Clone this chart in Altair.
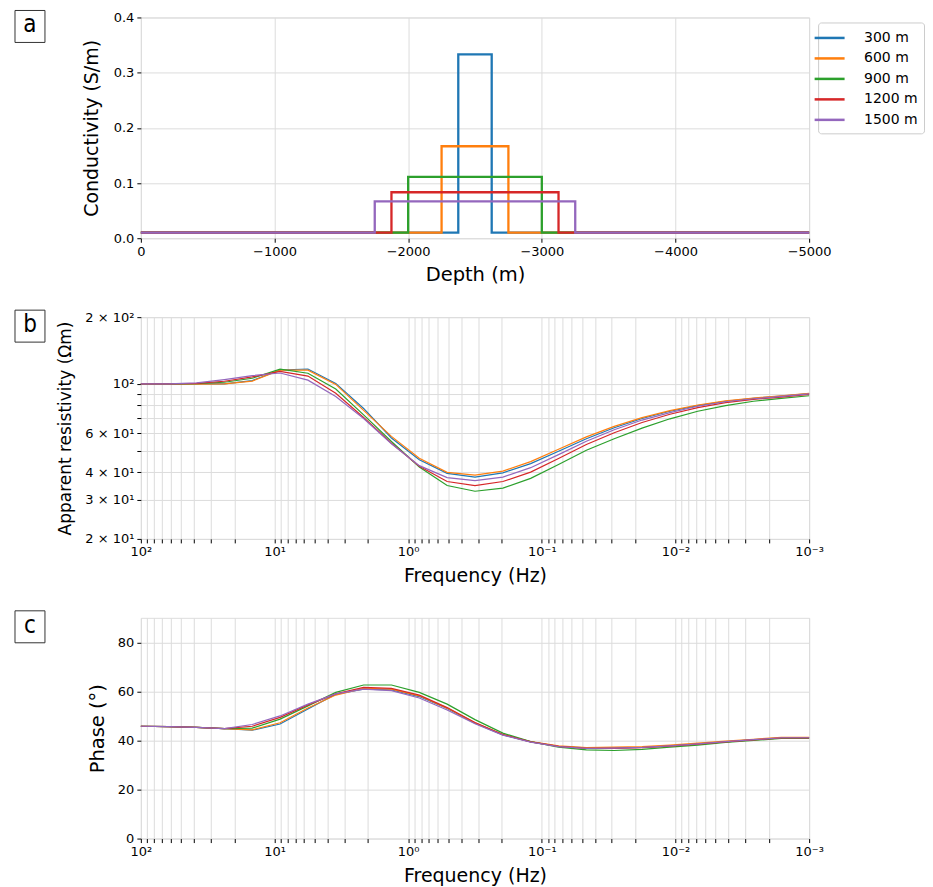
import altair as alt
import pandas as pd

# ---------------- data ----------------
labels = ["300 m", "600 m", "900 m", "1200 m", "1500 m"]
colors = ["#1f77b4", "#ff7f0e", "#2ca02c", "#d62728", "#9467bd"]

# panel a: conductivity models
depth_start = 0
depth_end = -5000
background_sigma = 0.01
layer_top = [-2375, -2250, -2000, -1875, -1750]
layer_bottom = [-2625, -2750, -3000, -3125, -3250]
layer_sigma = [0.333, 0.1667, 0.111, 0.0833, 0.0667]

# panels b, c: MT responses
freq = [100, 61.9, 38.3, 23.71, 14.68, 9.085, 5.623, 3.481, 2.154, 1.334,
        0.8254, 0.5109, 0.3162, 0.1957, 0.1212, 0.07499, 0.04642, 0.02873,
        0.01778, 0.011, 0.006813, 0.004217, 0.00261, 0.001616, 0.001]

rho_300 = [100, 100, 100, 100, 103.5, 115.5, 116.7, 100.5, 77.5, 57.0, 45.5, 39.5, 38.0,
           39.7, 43.7, 49.7, 56.6, 63.4, 69.8, 75.3, 79.8, 83.5, 86.0, 88.2, 90.4]
rho_600 = [100, 100, 99.8, 100, 103, 115.3, 115.3, 99.5, 76.0, 58.0, 46.2, 39.9, 38.8,
           40.4, 44.6, 50.7, 57.7, 64.3, 70.5, 75.8, 80.3, 83.9, 86.3, 88.4, 90.6]
rho_900 = [100, 100, 100.3, 101.7, 106, 116.5, 111.7, 94.8, 72.5, 55.0, 42.2, 34.8, 32.8,
           33.9, 37.5, 43.3, 50.2, 56.6, 63.2, 69.6, 75.3, 79.8, 83.5, 86.1, 88.4]
rho_1200 = [100, 100, 100.5, 102.8, 107.5, 113.8, 108.5, 90.8, 70.5, 54.0, 42.5, 36.3, 34.8,
            36.3, 40.0, 46.1, 53.3, 60.2, 67.0, 73.0, 78.1, 82.3, 85.2, 87.2, 89.7]
rho_1500 = [100, 100, 101, 104.6, 109, 112, 104, 87.8, 69.8, 53.7, 42.8, 37.8, 36.6,
            38.0, 41.9, 48.0, 55.1, 62.1, 68.7, 74.2, 79.3, 83.1, 85.7, 87.8, 90.1]

phase_300 = [45.8, 45.6, 45.3, 44.8, 44.2, 46.7, 52.8, 58.9, 60.9, 60.6, 57.9, 53.0, 47.0,
             42.3, 39.4, 37.6, 37.0, 37.0, 37.2, 37.8, 38.6, 39.4, 40.3, 41.1, 41.2]
phase_600 = [45.8, 45.6, 45.3, 44.8, 44.3, 47.2, 53.2, 58.5, 61.2, 60.9, 58.2, 53.2, 47.2,
             42.4, 39.5, 37.8, 37.1, 37.3, 37.5, 38.1, 38.9, 39.7, 40.5, 41.3, 41.3]
phase_900 = [45.8, 45.6, 45.3, 44.8, 45.0, 48.7, 54.1, 59.6, 62.6, 62.6, 59.6, 54.8, 48.5,
             43.0, 39.5, 37.3, 36.2, 35.9, 36.4, 37.3, 38.1, 39.2, 40.0, 40.8, 40.8]
phase_1200 = [45.8, 45.6, 45.3, 44.8, 45.8, 49.4, 54.5, 59.0, 61.6, 61.2, 58.5, 53.4, 47.3,
              42.4, 39.4, 37.6, 36.8, 36.8, 37.1, 37.7, 38.5, 39.4, 40.2, 41.0, 41.0]
phase_1500 = [45.8, 45.6, 45.3, 44.8, 46.5, 50.0, 54.8, 59.0, 60.9, 60.3, 57.3, 52.4, 46.8,
              42.2, 39.3, 37.5, 36.8, 36.9, 37.2, 37.8, 38.6, 39.5, 40.3, 41.1, 41.1]

depth_ticks = [0, -1000, -2000, -3000, -4000, -5000]
sigma_ticks = [0.0, 0.1, 0.2, 0.3, 0.4]
freq_major = [100, 10, 1, 0.1, 0.01, 0.001]
freq_major_labels = ["10²", "10¹", "10⁰", "10⁻¹", "10⁻²", "10⁻³"]
rho_ticks = [20, 30, 40, 50, 60, 70, 80, 90, 100, 200]
rho_tick_labels = ["2 × 10¹", "3 × 10¹", "4 × 10¹", "", "6 × 10¹", "", "", "", "10²", "2 × 10²"]
phase_ticks = [0, 20, 40, 60, 80]

# ---------------- tables ----------------
rows_a = []
for k, lab in enumerate(labels):
    pts = [(depth_start, background_sigma), (layer_top[k], layer_sigma[k]),
           (layer_bottom[k], background_sigma), (depth_end, background_sigma)]
    for j, (d, s) in enumerate(pts):
        rows_a.append({"label": lab, "k": k, "step": j, "depth": d, "sigma": s})
df_a = pd.DataFrame(rows_a)

rho_all = [rho_300, rho_600, rho_900, rho_1200, rho_1500]
phase_all = [phase_300, phase_600, phase_900, phase_1200, phase_1500]
rows_bc = []
for k, lab in enumerate(labels):
    for j, f in enumerate(freq):
        rows_bc.append({"label": lab, "k": k, "freq": f, "rho": rho_all[k][j], "phase": phase_all[k][j]})
df_bc = pd.DataFrame(rows_bc)

freq_minor = []
for base in [0.001, 0.01, 0.1, 1, 10]:
    for m in range(2, 10):
        freq_minor.append(round(base * m, 6))
freq_ticks = sorted(freq_major + freq_minor)


def label_expr(vals, labs):
    expr = "''"
    for v, l in zip(reversed(vals), reversed(labs)):
        expr = f"(abs(datum.value - {v}) < {abs(v) * 1e-6 + 1e-12}) ? '{l}' : {expr}"
    return expr


FONT = "DejaVu Sans"
W = 669


def axis_kw(title_size, title_padding):
    return dict(labelFont=FONT, labelFontSize=13, titleFont=FONT, titleFontSize=title_size,
                titleFontWeight="normal", labelColor="black", titleColor="black",
                tickColor="black", domain=False, gridColor="#dcdcdc", gridWidth=1,
                tickSize=4, labelPadding=3, titlePadding=title_padding, labelFlush=False)


color_scale = alt.Scale(domain=labels, range=colors)


def panel_label(letter):
    src = alt.Chart(pd.DataFrame({"panel": [letter]}))
    box = src.mark_rect(fill="white", stroke="#333333", strokeWidth=1).encode(
        x=alt.value(-126), x2=alt.value(-96), y=alt.value(-7), y2=alt.value(25))
    txt = src.mark_text(font="DejaVu Sans Condensed, Liberation Sans Narrow, DejaVu Sans",
                        fontSize=24, color="black", baseline="middle", align="center").encode(
        x=alt.value(-111), y=alt.value(8), text="panel:N")
    return box + txt


# ---------------- panel a ----------------
line_a = alt.Chart(df_a).mark_line(strokeWidth=2.3, interpolate="step-after").encode(
    x=alt.X("depth:Q",
            scale=alt.Scale(domain=[depth_end, depth_start], reverse=True, nice=False, zero=False),
            axis=alt.Axis(values=depth_ticks, format="d", title="Depth (m)", **axis_kw(19.5, 7))),
    y=alt.Y("sigma:Q", scale=alt.Scale(domain=[0, 0.4], nice=False),
            axis=alt.Axis(values=sigma_ticks, format=".1f", title="Conductivity (S/m)",
                          **axis_kw(19, 12))),
    color=alt.Color("label:N", scale=color_scale,
                    legend=alt.Legend(title=None, orient="none", legendX=678, legendY=5,
                                      symbolType="M-1.875,0H1.875", symbolSize=256,
                                      symbolStrokeWidth=2.5, symbolOffset=-4,
                                      labelFont=FONT, labelFontSize=14, labelColor="black",
                                      strokeColor="#cccccc", fillColor="white", padding=6,
                                      cornerRadius=3, rowPadding=3.5, labelOffset=25)),
    order=alt.Order("step:Q"),
)
chart_a = alt.layer(line_a, panel_label("a")).properties(width=W, height=221)

# ---------------- panel b ----------------
def freq_axis():
    return alt.Axis(values=freq_ticks, labelExpr=label_expr(freq_major, freq_major_labels),
                    title="Frequency (Hz)", **axis_kw(19, 8))


line_b = alt.Chart(df_bc).mark_line(strokeWidth=1.2).encode(
    x=alt.X("freq:Q", scale=alt.Scale(type="log", domain=[0.001, 100], reverse=True, nice=False),
            axis=freq_axis()),
    y=alt.Y("rho:Q", scale=alt.Scale(type="log", domain=[20, 200], nice=False),
            axis=alt.Axis(values=rho_ticks, labelExpr=label_expr(rho_ticks, rho_tick_labels),
                          title="Apparent resistivity  (Ωm)", **axis_kw(17, 10))),
    color=alt.Color("label:N", scale=color_scale, legend=None),
    detail="k:N",
)
chart_b = alt.layer(line_b, panel_label("b")).properties(width=W, height=222)

# ---------------- panel c ----------------
line_c = alt.Chart(df_bc).mark_line(strokeWidth=1.2).encode(
    x=alt.X("freq:Q", scale=alt.Scale(type="log", domain=[0.001, 100], reverse=True, nice=False),
            axis=freq_axis()),
    y=alt.Y("phase:Q", scale=alt.Scale(domain=[0, 90], nice=False),
            axis=alt.Axis(values=phase_ticks, title="Phase (°)", **axis_kw(19.5, 10))),
    color=alt.Color("label:N", scale=color_scale, legend=None),
    detail="k:N",
)
chart_c = alt.layer(line_c, panel_label("c")).properties(width=W, height=221)

chart = alt.vconcat(chart_a, chart_b, chart_c, spacing=79, bounds="flush").properties(
    padding={"left": 6, "top": 1, "right": 0, "bottom": 0}
).configure_view(stroke="black", strokeWidth=1).configure(background="white")

chart.save("out.html", embed_options={"renderer": "svg", "actions": False})
